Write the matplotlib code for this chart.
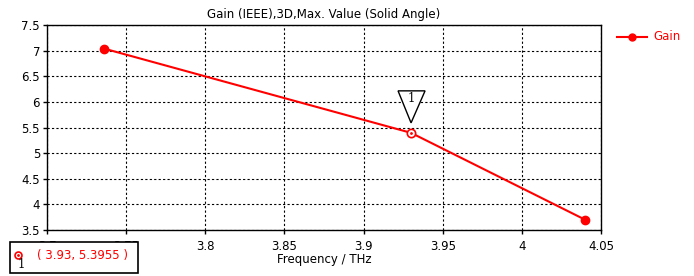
import matplotlib

matplotlib.use("Agg")

import matplotlib.pyplot as plt
from matplotlib.patches import Polygon, Rectangle
from matplotlib.lines import Line2D

freq = [3.736, 3.93, 4.04]
gain = [7.04, 5.3955, 3.70]
marker_idx = 1
xticks = [3.7, 3.75, 3.8, 3.85, 3.9, 3.95, 4.0, 4.05]
xticklabels = ["3.7", "3.75", "3.8", "3.85", "3.9", "3.95", "4", "4.05"]
yticks = [3.5, 4, 4.5, 5, 5.5, 6, 6.5, 7, 7.5]
yticklabels = ["3.5", "4", "4.5", "5", "5.5", "6", "6.5", "7", "7.5"]

plt.rcParams["font.family"] = ["DejaVu Sans"]
fs = 8.5
W, H = 694, 276
fig = plt.figure(figsize=(W / 100, H / 100), dpi=100)
ax = fig.add_axes([47 / W, 1 - 230 / H, (601 - 47) / W, (230 - 25) / H])

red = "#ff0000"
ax.plot(freq, gain, color=red, lw=1.5, zorder=3)
ends = [0, len(freq) - 1]
ax.plot([freq[i] for i in ends], [gain[i] for i in ends], "o", color=red, ms=6, zorder=4)
ax.plot(freq[marker_idx], gain[marker_idx], "o", mfc="white", mec=red, mew=1.2, ms=6, zorder=4)
ax.plot(freq[marker_idx], gain[marker_idx], ".", color=red, ms=2, zorder=5)

ax.set_xlim(3.7, 4.05)
ax.set_ylim(3.5, 7.5)
ax.set_xticks(xticks)
ax.set_xticklabels(xticklabels, fontsize=fs)
ax.set_yticks(yticks)
ax.set_yticklabels(yticklabels, fontsize=fs)
ax.tick_params(direction="out", length=3, width=1, colors="black", pad=2)
ax.tick_params(axis="x", pad=4)
ax.grid(True, color="black", linestyle=(0, (2, 2)), lw=0.8)
for s in ax.spines.values():
    s.set_linewidth(1)
ax.set_xlabel("Frequency / THz", fontsize=fs, labelpad=0)
ax.set_title("Gain (IEEE),3D,Max. Value (Solid Angle)", fontsize=fs, pad=5)

# marker triangle above the labelled point (pixel offsets)
px, py = ax.transData.transform((freq[marker_idx], gain[marker_idx]))
tri = Polygon([(px - 13, py + 42), (px + 14, py + 42), (px, py + 10)], closed=True,
              fill=True, fc="white", ec="black", lw=1, transform=None, zorder=6)
fig.patches.append(tri)
fig.text(px / W, (py + 34) / H, "1", ha="center", va="center", fontsize=fs,
         family="DejaVu Serif", zorder=7)

# marker readout box, drawn over the axis tick labels
box_ax = fig.add_axes([0, 0, 1, 1], zorder=10)
box_ax.set_axis_off()
box_ax.set_xlim(0, W)
box_ax.set_ylim(H, 0)
box_ax.add_patch(Rectangle((10, 242), 128, 31, fc="white", ec="black", lw=1.2))
box_ax.plot([18], [255], "o", mfc="white", mec=red, mew=1.2, ms=5)
box_ax.plot([18], [255], ".", color=red, ms=2)
box_ax.text(21, 265, "1", ha="center", va="center", fontsize=fs, family="DejaVu Serif")
box_ax.text(37, 256, "( %g, %g )" % (freq[marker_idx], gain[marker_idx]),
            ha="left", va="center", fontsize=fs, color=red)

# legend
box_ax.plot([617, 647], [37, 37], color=red, lw=1.5)
box_ax.plot([632], [37], "o", color=red, ms=5)
box_ax.text(653, 37, "Gain", ha="left", va="center", fontsize=fs, color=red)

fig.savefig("out.png", dpi=100)
